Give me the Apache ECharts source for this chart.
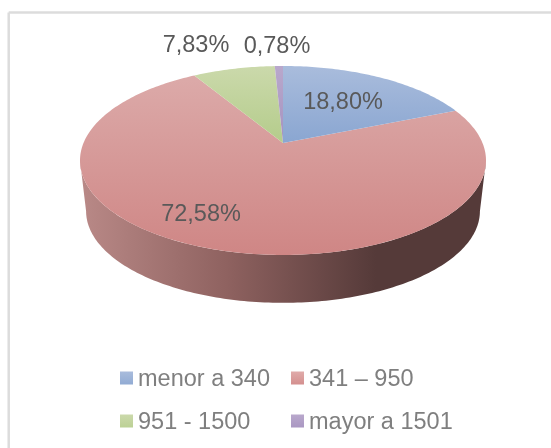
<!DOCTYPE html>
<html><head><meta charset="utf-8">
<style>html,body{margin:0;padding:0;background:#fff}#c{width:551px;height:448px}</style>
<script src="https://cdn.jsdelivr.net/npm/echarts@6/dist/echarts.min.js"></script>
</head><body><div id="c"></div>
<script>
const categories = ['menor a 340', '341 – 950', '951 - 1500', 'mayor a 1501'];
const values = [18.80, 72.58, 7.83, 0.78];
const labels = ['18,80%', '72,58%', '7,83%', '0,78%'];
const topColors = [['#a9bcdc','#8aa6d1'], ['#dcaaa9','#cf8685'], ['#cbd9ab','#b4cc8b'], ['#b9a8cc','#a592bf']];
const legendColors = [['#a9bcdc','#8aa6d1'], ['#e0abaa','#d08786'], ['#cbd9ab','#b7ce8e'], ['#b9a8cc','#a592bf']];
const labelPos = [[343,103],[201,215],[196,46],[277,47]];

const cx = 283, cy = 143, a3 = 91.26, c3 = 199.5, tilt = 0.185, depth = 50.7, shrink = 0.97;
const total = values.reduce((a, b) => a + b, 0);
let acc = 0;
const spans = values.map(v => { const s = acc; acc += v; return [s / total, acc / total]; });
const ellipseCy = cy + (112 - 77) / 2;
const pt = (f, lower) => {
  const t = f * 2 * Math.PI, X = Math.sin(t), Y = Math.cos(t), d = 1 + tilt * Y;
  const x = c3 * X / d, y = -a3 * Y / d;
  if (!lower) return [cx + x, cy + y];
  return [cx + x * shrink, ellipseCy + depth + (y + cy - ellipseCy) * shrink];
};
function arc(f0, f1, lower) {
  const n = Math.max(2, Math.ceil((f1 - f0) * 360)), p = [];
  for (let i = 0; i <= n; i++) p.push(pt(f0 + (f1 - f0) * i / n, lower));
  return p;
}
const grad = c => ({ type: 'linear', x: 0, y: 0, x2: 0, y2: 1, global: false,
  colorStops: [{ offset: 0, color: c[0] }, { offset: 1, color: c[1] }] });
const wallFill = { type: 'linear', x: 81, y: 0, x2: 485, y2: 0, global: true,
  colorStops: [{ offset: 0, color: '#b98987' }, { offset: 0.36, color: '#8f6260' }, { offset: 0.73, color: '#553a39' }, { offset: 1, color: '#553a39' }] };
const fEdge = Math.acos(-tilt) / (2 * Math.PI);

function sliceSeries(i) {
  return {
    type: 'custom', name: categories[i], coordinateSystem: 'none', silent: true,
    data: [values[i]], itemStyle: { color: legendColors[i][1] },
    renderItem() {
      const [f0, f1] = spans[i], ch = [];
      const a = Math.max(f0, fEdge), b = Math.min(f1, 1 - fEdge);
      if (b > a) {
        const t = arc(a, b, false), u = arc(a, b, true).reverse();
        ch.push({ type: 'polygon', shape: { points: t.concat(u) }, style: { fill: wallFill } });
      }
      const pts = [[cx, cy]].concat(arc(f0, f1, false));
      ch.push({ type: 'polygon', shape: { points: pts }, style: { fill: grad(topColors[i]) } });
      return { type: 'group', children: ch };
    }
  };
}
function labelSeries() {
  return {
    type: 'custom', coordinateSystem: 'none', silent: true, z: 5, data: labels,
    renderItem(p) {
      const q = labelPos[p.dataIndex];
      return { type: 'text', x: q[0], y: q[1], style: { text: labels[p.dataIndex], x: 0, y: 0,
        align: 'center', verticalAlign: 'middle', fill: '#595959', font: '23.5px "Liberation Sans", Arial' } };
    }
  };
}
const legendBase = { orient: 'horizontal', icon: 'path://M0 0L13 0L13 13L0 13ZM0 17L13 17', itemWidth: 13, itemHeight: 17,
  selectedMode: false, padding: 0, textStyle: { color: '#7f7f7f', fontSize: 23.5, fontFamily: '"Liberation Sans", Arial' } };
const legendItem = i => [{ name: categories[i], itemStyle: { color: grad(legendColors[i]), borderWidth: 0 } }];
const chart = echarts.init(document.getElementById('c'), null, { renderer: 'canvas' });
chart.setOption({
  animation: false, backgroundColor: '#fff',
  graphic: [
    { type: 'line', shape: { x1: 8.7, y1: 12.5, x2: 551, y2: 12.5 }, style: { stroke: '#dcdcdc', lineWidth: 2.5 }, z: -10 },
    { type: 'line', shape: { x1: 8.7, y1: 12.5, x2: 8.7, y2: 448 }, style: { stroke: '#dcdcdc', lineWidth: 2.5 }, z: -10 }
  ],
  legend: [
    Object.assign({}, legendBase, { data: legendItem(0), left: 120, top: 368 }),
    Object.assign({}, legendBase, { data: legendItem(1), left: 291, top: 368 }),
    Object.assign({}, legendBase, { data: legendItem(2), left: 120, top: 411 }),
    Object.assign({}, legendBase, { data: legendItem(3), left: 291, top: 411 })
  ],
  series: [sliceSeries(1), sliceSeries(0), sliceSeries(2), sliceSeries(3), labelSeries()]
});
</script></body></html>
